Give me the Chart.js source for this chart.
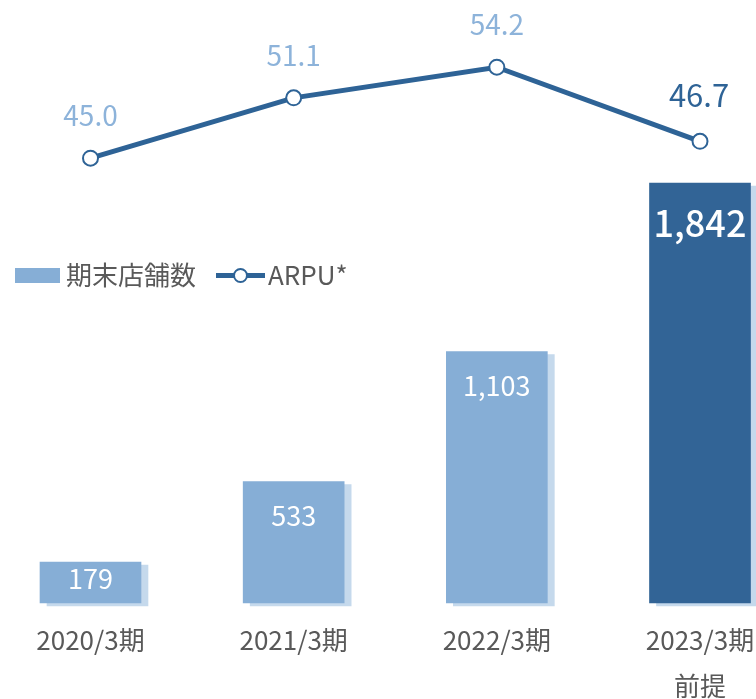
<!DOCTYPE html>
<html lang="ja">
<head>
<meta charset="utf-8">
<script src="https://cdn.jsdelivr.net/npm/chart.js@4"></script>
<style>
  html, body { margin: 0; padding: 0; background: #fff; }
  #wrap { position: relative; width: 756px; height: 699px; overflow: hidden; font-family: "Noto Sans CJK JP", "Noto Sans", sans-serif; }
  #legend { position: absolute; left: 0; top: 0; }
  .lg-box { position: absolute; left: 15px; top: 268px; width: 45px; height: 15px; background: #86aed6; }
  .lg-text { position: absolute; top: 261px; height: 26px; line-height: 26px; font-size: 26px; color: #595959; white-space: nowrap; }
  .lg-line { position: absolute; left: 216px; top: 273px; width: 49px; height: 5px; background: #2e6396; }
  .lg-dot { position: absolute; left: 232.5px; top: 267.5px; width: 11px; height: 11px; border: 2px solid #2e6396; border-radius: 50%; background: #fff; }
</style>
</head>
<body>
<div id="wrap">
  <canvas id="c"></canvas>
  <div id="legend">
    <div class="lg-box"></div>
    <div class="lg-text" style="left:66px">期末店舗数</div>
    <div class="lg-line"></div>
    <div class="lg-dot"></div>
    <div class="lg-text" style="left:268px">ARPU*</div>
  </div>
</div>
<script>
'use strict';

/* ── データ ── */
const LABELS = [['2020/3期'], ['2021/3期'], ['2022/3期'], ['2023/3期', '前提']];
const STORES = [179, 533, 1103, 1842];
const ARPU = [45.0, 51.1, 54.2, 46.7];

/* ── 色 ── */
const C_BAR = '#86aed6', C_BAR_LAST = '#326496', C_SHADOW = '#c5d9ec';
const C_LINE = '#2e6396', C_ARPU_LBL = '#8db3da', C_TICK = '#595959';
const FONT = '"Noto Sans CJK JP", "Noto Sans", sans-serif';

/* ── 影（右下にずらした薄い矩形） ── */
const barShadow = {
  id: 'barShadow',
  beforeDatasetDraw(chart, args) {
    if (args.index !== 0) return;
    const ctx = chart.ctx;
    ctx.save();
    ctx.shadowColor = C_SHADOW;
    ctx.shadowOffsetX = 7;
    ctx.shadowOffsetY = 3;
    ctx.shadowBlur = 0;
  },
  afterDatasetDraw(chart, args) {
    if (args.index !== 0) return;
    chart.ctx.restore();
  }
};

/* ── 数値ラベル ── */
const valueLabels = {
  id: 'valueLabels',
  afterDatasetsDraw(chart) {
    const ctx = chart.ctx;
    const base = chart.scales.y.getPixelForValue(0);
    ctx.save();
    ctx.textAlign = 'center';
    ctx.textBaseline = 'middle';
    chart.getDatasetMeta(0).data.forEach((bar, i) => {
      const last = i === STORES.length - 1;
      ctx.fillStyle = '#fff';
      ctx.font = (last ? '500 36px ' : '27px ') + FONT;
      const y = last ? bar.y + 40 : Math.min(bar.y + 34, (bar.y + base) / 2 - 4);
      ctx.fillText(STORES[i].toLocaleString('en-US'), bar.x, y);
    });
    chart.getDatasetMeta(1).data.forEach((pt, i) => {
      const last = i === ARPU.length - 1;
      ctx.fillStyle = last ? C_LINE : C_ARPU_LBL;
      ctx.font = (last ? '31px ' : '28px ') + FONT;
      ctx.fillText(ARPU[i].toFixed(1), pt.x - (last ? 1 : 0), pt.y - (last ? 46 : 43));
    });
    ctx.restore();
  }
};

new Chart(document.getElementById('c'), {
  data: {
    labels: LABELS,
    datasets: [
      {
        type: 'bar',
        data: STORES,
        backgroundColor: STORES.map((v, i) => i === STORES.length - 1 ? C_BAR_LAST : C_BAR),
        barThickness: 101,
        yAxisID: 'y',
        clip: false,
        order: 2
      },
      {
        type: 'line',
        data: ARPU,
        borderColor: C_LINE,
        borderWidth: 5,
        pointRadius: 7.5,
        pointBorderWidth: 2,
        pointBackgroundColor: '#fff',
        pointBorderColor: C_LINE,
        yAxisID: 'y1',
        clip: false,
        order: 1
      }
    ]
  },
  options: {
    responsive: true,
    maintainAspectRatio: false,
    animation: false,
    layout: { autoPadding: false, padding: { left: 90.5, right: 56, top: 0, bottom: 0 } },
    plugins: { legend: { display: false }, tooltip: { enabled: false } },
    scales: {
      x: {
        offset: false,
        grid: { display: false, drawTicks: false },
        border: { display: false },
        ticks: { color: C_TICK, font: { family: FONT, size: 26, lineHeight: '46px' }, padding: 14, maxRotation: 0, autoSkip: false },
        afterFit(s) { s.height = 96; s.paddingLeft = 0; s.paddingRight = 0; }
      },
      y: { display: false, min: 0, max: 2645 },
      y1: { display: false, min: 0, max: 61 }
    }
  },
  plugins: [barShadow, valueLabels]
});
</script>
</body>
</html>
